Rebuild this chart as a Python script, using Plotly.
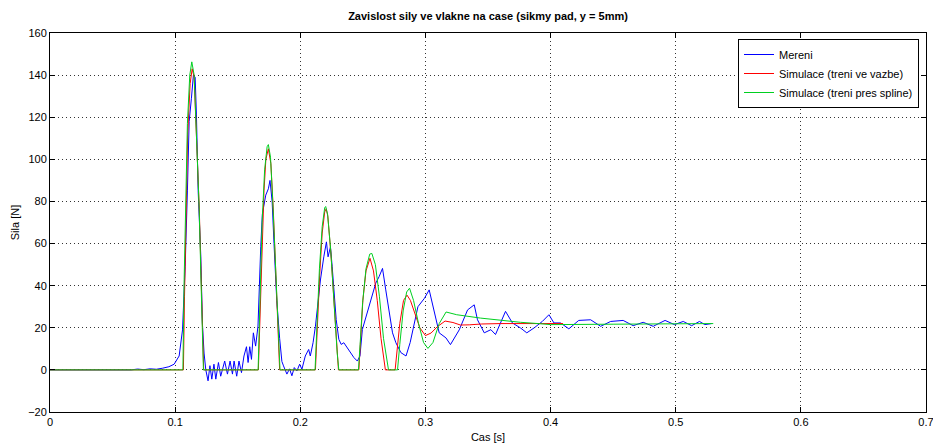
import plotly.graph_objects as go

# ---- data ----
t_mereni = [0.0, 0.05, 0.06, 0.065, 0.07, 0.075, 0.08, 0.085, 0.09, 0.095, 0.0992, 0.1032, 0.1059, 0.108,
            0.1098, 0.1112, 0.113, 0.1146, 0.116, 0.117, 0.1184, 0.1205, 0.1218, 0.1231, 0.1245, 0.1263,
            0.1278, 0.1293, 0.131, 0.1325, 0.1346, 0.1364, 0.1396, 0.1418, 0.1439, 0.1458, 0.1471, 0.1492,
            0.151, 0.153, 0.155, 0.157, 0.1583, 0.1596, 0.161, 0.1625, 0.1643, 0.1662, 0.1684, 0.1697,
            0.1724, 0.1745, 0.1758, 0.1775, 0.179, 0.1812, 0.1835, 0.1853, 0.1866, 0.1893, 0.1914, 0.1933,
            0.1952, 0.1973, 0.1995, 0.2013, 0.204, 0.2067, 0.208, 0.2102, 0.2121, 0.214, 0.2161, 0.2188,
            0.2209, 0.2222, 0.2241, 0.2255, 0.2268, 0.2287, 0.2308, 0.2327, 0.2348, 0.2375, 0.2402, 0.2429,
            0.2456, 0.2477, 0.2496, 0.2536, 0.2563, 0.2603, 0.263, 0.2657, 0.2683, 0.271, 0.2737, 0.2764,
            0.2804, 0.2845, 0.2878, 0.294, 0.2992, 0.303, 0.307, 0.311, 0.3164, 0.32, 0.327, 0.3337, 0.339,
            0.3416, 0.347, 0.3523, 0.356, 0.364, 0.3695, 0.376, 0.381, 0.387, 0.3934, 0.3987, 0.4027, 0.408,
            0.4146, 0.4225, 0.432, 0.44, 0.448, 0.458, 0.466, 0.474, 0.482, 0.4915, 0.499, 0.506, 0.5127,
            0.519, 0.5233, 0.5287]
f_mereni = [0, 0, 0.3, 0, 0.4, 0.1, 0.5, 0.3, 0.8, 1.5, 2.7, 6.6, 19, 49,
            85, 118, 129, 140, 139, 121.5, 85, 54, 22, 8, 0, -5.2,
            2, -4.4, 2.7, -4.4, 3.5, -3, 4.2, -2, 4.2, -2, 4.2, -3,
            4.2, -1.3, 6.6, 11, 3.5, 11, 5, 17.6, 11.3, 20.8, 58.5, 74,
            83, 86, 90, 80, 60, 33, 15, 4, 1.9, -2, 0.5, -2.8,
            1.1, -0.5, 2.7, 0.3, 6.6, 9.7, 6.6, 12.9, 20.7, 31.7, 42.7, 53.7,
            60.8, 53.7, 58.4, 49, 38, 23.9, 14.5, 12.1, 12.9, 10.5, 8.2, 5.8,
            4.2, 6.6, 19.2, 27, 33.3, 41.2, 44.3, 48.2, 38, 28.6, 17.6, 12.9,
            8.2, 6.6, 13, 30, 34, 38, 27, 17.6, 15.2, 12, 19, 28.5, 30.9,
            23.8, 17.6, 19.1, 16.8, 27.8, 22.3, 19.9, 17.6, 20, 23, 26.2, 22.3, 22.3,
            19.5, 23.5, 23.8, 20.7, 23, 23.5, 21, 22.6, 20.7, 23.5, 21.5, 23, 21,
            23, 21.5, 22]

t_vazba = [0, 0.1066, 0.1075, 0.1088, 0.11, 0.112, 0.1136, 0.1152, 0.1175, 0.1193, 0.1207, 0.122, 0.1228,
           0.1665, 0.168, 0.1695, 0.171, 0.1725, 0.1745, 0.1765, 0.1785, 0.1805, 0.1822, 0.1835,
           0.2121, 0.2135, 0.2155, 0.2175, 0.2195, 0.2207, 0.222, 0.2245, 0.227, 0.2295, 0.2305,
           0.2468, 0.248, 0.25, 0.2525, 0.2557, 0.2585, 0.2615, 0.2645, 0.2675, 0.268,
           0.2758, 0.277, 0.2795, 0.2825, 0.2853, 0.288, 0.2915, 0.2955, 0.3, 0.3045, 0.3095, 0.3157,
           0.322, 0.328, 0.335, 0.345, 0.36, 0.38, 0.41]
f_vazba = [0, 0, 35, 80, 112, 136, 143, 139, 108, 76, 45, 16, 0,
           0, 30, 60, 85, 100, 105, 98, 75, 45, 18, 0,
           0, 20, 45, 65, 75, 76.5, 73, 55, 30, 8, 0,
           0, 12, 33, 47, 53, 47, 33, 15, 1, 0,
           0, 7, 22, 33, 35.5, 33, 27, 20, 16.3, 17.5, 20.5, 23.2,
           22.5, 21.3, 21.4, 21.8, 22, 22, 22]

t_spline = [0, 0.1062, 0.1072, 0.1085, 0.1098, 0.1117, 0.1133, 0.1152, 0.1173, 0.1192, 0.1205, 0.1218, 0.1226,
            0.1663, 0.1678, 0.1695, 0.1715, 0.1735, 0.1745, 0.1762, 0.178, 0.18, 0.182, 0.1838,
            0.2118, 0.2133, 0.2153, 0.2175, 0.2195, 0.2203, 0.2218, 0.2243, 0.2268, 0.2295, 0.2308,
            0.2465, 0.2478, 0.2498, 0.2525, 0.2555, 0.2572, 0.26, 0.2632, 0.2665, 0.2705,
            0.2777, 0.2795, 0.2822, 0.285, 0.2873, 0.2905, 0.2945, 0.2985, 0.302, 0.306, 0.311, 0.3165,
            0.325, 0.344, 0.36, 0.376, 0.39, 0.4, 0.45, 0.5, 0.53]
f_spline = [0, 0, 42.8, 85, 117, 140, 146.3, 140, 109, 77, 46, 17.6, 0,
            0, 35, 70, 95, 106, 107, 101, 80, 50, 20, 0,
            0, 22, 48, 68, 77, 77.6, 74, 57, 32, 8, 0,
            0, 12, 32, 48, 55, 55.3, 50, 35, 15, 0,
            0, 12, 28, 37, 38.8, 33, 22, 13, 10.2, 13, 22, 27.5,
            26.2, 24.6, 23.5, 22.6, 22, 21.5, 21.7, 21.9, 22]

series_names = ["Mereni", "Simulace (treni ve vazbe)", "Simulace (treni pres spline)"]
x_ticks = [0, 0.1, 0.2, 0.3, 0.4, 0.5, 0.6, 0.7]
x_tick_labels = ["0", "0.1", "0.2", "0.3", "0.4", "0.5", "0.6", "0.7"]
y_ticks = [-20, 0, 20, 40, 60, 80, 100, 120, 140, 160]

FONT = "Liberation Sans, Arial, Helvetica, sans-serif"

fig = go.Figure()
fig.add_trace(go.Scatter(x=t_mereni, y=f_mereni, mode="lines", name=series_names[0],
                         line=dict(color="#0000ff", width=1)))
fig.add_trace(go.Scatter(x=t_vazba, y=f_vazba, mode="lines", name=series_names[1],
                         line=dict(color="#ff0000", width=1)))
fig.add_trace(go.Scatter(x=t_spline, y=f_spline, mode="lines", name=series_names[2],
                         line=dict(color="#00d020", width=1)))

axis_common = dict(showline=True, linecolor="black", linewidth=1, mirror="ticks",
                   ticks="inside", ticklen=5, tickcolor="black", automargin=False,
                   ticklabeloverflow="allow",
                   showgrid=True, gridcolor="#333333", griddash="1px,3px", gridwidth=1,
                   zeroline=False, tickfont=dict(family=FONT, size=11, color="black"))

fig.update_layout(
    width=933, height=444,
    margin=dict(l=50, r=7, t=33, b=32),
    paper_bgcolor="white", plot_bgcolor="white",
    font=dict(family=FONT, size=11, color="black"),
    title=dict(text="<b>Zavislost sily ve vlakne na case (sikmy pad, y = 5mm)</b>",
               x=(50 + 876 / 2) / 933, xanchor="center", y=1 - 16 / 444, yanchor="middle",
               font=dict(family=FONT, size=11, color="black")),
    xaxis=dict(range=[0, 0.7], tickvals=x_ticks, ticktext=x_tick_labels,
               title=dict(text="Cas [s]", standoff=6, font=dict(family=FONT, size=11)),
               **axis_common),
    yaxis=dict(range=[-20, 160], tickvals=y_ticks,
               title=dict(text="Sila [N]", standoff=6, font=dict(family=FONT, size=11)),
               **axis_common),
    legend=dict(x=(919 - 50) / 876, xanchor="right", y=(412 - 39) / 379, yanchor="top",
                bgcolor="white", bordercolor="black", borderwidth=1,
                font=dict(family=FONT, size=11, color="black"),
                tracegroupgap=0, itemwidth=30),
    showlegend=True,
)

fig.write_html("out.html")
